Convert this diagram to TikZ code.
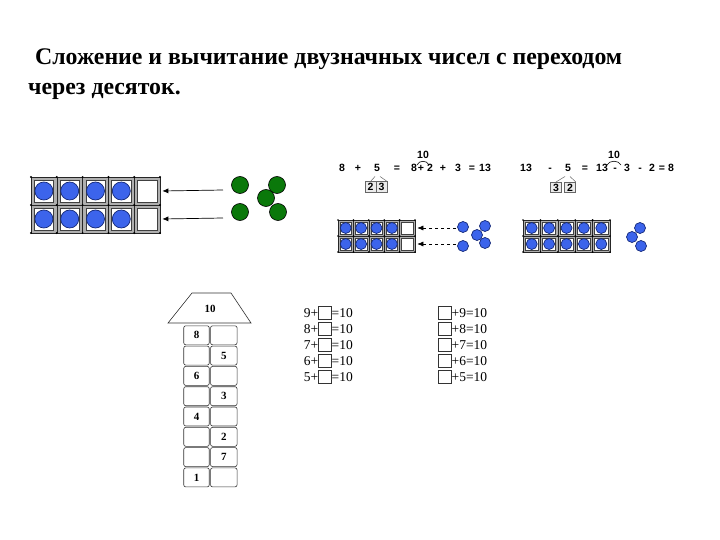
\documentclass[tikz,border=0pt]{standalone}
\usepackage{fontspec}
\setmainfont{Liberation Serif}
\newfontfamily\eqfont{Liberation Sans}
\usetikzlibrary{arrows.meta}
\definecolor{dotblue}{RGB}{60,100,235}
\definecolor{dotedge}{RGB}{20,40,120}
\definecolor{dotgreen}{RGB}{10,120,10}
\definecolor{frame}{RGB}{175,175,175}
\begin{document}
\begin{tikzpicture}[x=1pt,y=-1pt,
  title/.style={font=\fontsize{23.8}{27}\selectfont\bfseries, inner sep=0, anchor=base west},
  cellout/.style={draw=black!85, line width=0.6pt, fill=frame, inner sep=0},
  cellin/.style={draw=black!75, line width=0.5pt, fill=white, inner sep=0},
  bdot/.style={circle, fill=dotblue, draw=dotedge, line width=0.7pt, inner sep=0},
  gdot/.style={circle, fill=dotgreen, draw=black, line width=0.6pt, inner sep=0, minimum size=17},
  eq/.style={font=\eqfont\bfseries\fontsize{10.5}{12}\selectfont, inner sep=0, anchor=base},
  dbox/.style={draw=black!60, fill=black!8, line width=0.5pt, inner sep=0, minimum width=11, minimum height=10.5, font=\eqfont\bfseries\fontsize{10.5}{12}\selectfont},
  hcell/.style={draw=black!80, line width=0.6pt, rounded corners=2, inner sep=0, minimum height=19, font=\fontsize{11}{12}\selectfont\bfseries},
  eqt/.style={font=\fontsize{13.5}{14}\selectfont, inner sep=0},
  ebox/.style={draw=black!80, line width=0.6pt, inner sep=0, minimum width=13, minimum height=12.5},
  arr/.style={-{Latex[length=6pt,width=5pt]}, line width=0.7pt}
]
\useasboundingbox (0,0) rectangle (720,540);

% title
\node[title] (t1) at (31,65) {\,Сложение и вычитание двузначных чисел с переходом};
\node[title] (t2) at (28,95) {через десяток.};

% big tens frame
\foreach \c in {0,...,4} \foreach \r in {0,1} {
  \node[cellout, minimum width=25.8, minimum height=28] (A\c\r) at ({31+12.9+\c*25.8},{177+14+\r*28}) {};
  \node[cellin, minimum width=19.4, minimum height=21.6] (Ai\c\r) at (A\c\r) {};
}
\foreach \c in {0,...,3} \foreach \r in {0,1}
  \node[bdot, minimum size=18] (Ab\c\r) at (A\c\r) {};
\foreach \c in {0,...,5} \foreach \r in {0,1,2}
  \fill (31+\c*25.8,177+\r*28) circle (1.1);

% green counters
\node[gdot] (g2) at (277,185) {};
\node[gdot] (g3) at (266,198) {};
\node[gdot] (g5) at (278,212) {};
\node[gdot] (g1) at (240,185) {};
\node[gdot] (g4) at (240,212) {};
\coordinate (s1) at (223,190);
\coordinate (s2) at (223,218);
\draw[arr] (s1) -- ([xshift=2pt]A40.east);
\draw[arr] (s2) -- ([xshift=2pt]A41.east);

% equation 1
\foreach \x/\t [count=\i] in {342/8,358/+,377/5,397/=,414/8,421/+,430/2,443/+,458/3,472/=,485/13}
  \node[eq] (p\i) at (\x,172) {\t};
\node[eq] (pten) at (423,159) {10};
\draw[line width=0.6pt] (417,165) .. controls (419,160) and (427,160) .. (429,165);
\node[dbox] (pb1) at (370.5,187) {2};
\node[dbox] (pb2) at (381.5,187) {3};
\draw[black!60, line width=0.5pt] (375,176.5) -- (pb1.north);
\draw[black!60, line width=0.5pt] (380,176.5) -- (pb2.north east);

% equation 2
\foreach \x/\t [count=\i] in {526/13,550/-,568/5,585/=,602/13,615/-,627/3,640/-,652/2,662/=,671/8}
  \node[eq] (q\i) at (\x,172) {\t};
\node[eq] (qten) at (614,159) {10};
\draw[line width=0.6pt] (607,165) .. controls (609,160) and (619,160) .. (621,165);
\node[dbox] (qb1) at (556,187.5) {3};
\node[dbox] (qb2) at (570,187.5) {2};
\draw[black!60, line width=0.5pt] (565,176.5) -- (qb1.north);
\draw[black!60, line width=0.5pt] (570,176.5) -- (qb2.north east);

% middle small frame
\foreach \c in {0,...,4} \foreach \r in {0,1} {
  \node[cellout, minimum width=15.4, minimum height=16] (B\c\r) at ({338+7.7+\c*15.4},{220+8+\r*16}) {};
  \node[cellin, minimum width=11.4, minimum height=12] (Bi\c\r) at (B\c\r) {};
}
\foreach \c in {0,...,3} \foreach \r in {0,1}
  \node[bdot, minimum size=11] (Bb\c\r) at (B\c\r) {};
\foreach \c in {0,...,5} \foreach \r in {0,1,2}
  \fill (338+\c*15.4,220+\r*16) circle (0.9);
\node[bdot, minimum size=11] (m1) at (463,227) {};
\node[bdot, minimum size=11] (m2) at (463,246) {};
\node[bdot, minimum size=11] (m3) at (485,226) {};
\node[bdot, minimum size=11] (m5) at (485,243) {};
\node[bdot, minimum size=11] (m4) at (477,235) {};
\coordinate (d1) at (456,228);
\coordinate (d2) at (456,244);
\draw[arr, dashed, line width=0.6pt] (d1) -- ([xshift=2pt]B40.east);
\draw[arr, dashed, line width=0.6pt] (d2) -- ([xshift=2pt]B41.east);

% right small frame
\foreach \c in {0,...,4} \foreach \r in {0,1} {
  \node[cellout, minimum width=17.4, minimum height=16] (C\c\r) at ({523+8.7+\c*17.4},{220+8+\r*16}) {};
  \node[cellin, minimum width=13.2, minimum height=12] (Ci\c\r) at (C\c\r) {};
  \node[bdot, minimum size=11] (Cb\c\r) at (C\c\r) {};
}
\foreach \c in {0,...,5} \foreach \r in {0,1,2}
  \fill (523+\c*17.4,220+\r*16) circle (0.9);
\node[bdot, minimum size=11] (r1) at (640,228) {};
\node[bdot, minimum size=11] (r2) at (632,237) {};
\node[bdot, minimum size=11] (r3) at (641,246) {};

% house
\draw[black!80, line width=0.6pt] (192,293) -- (231,293) -- (251,323) -- (168,323) -- cycle;
\node[font=\fontsize{11}{12}\selectfont\bfseries, inner sep=0] (roof) at (210,309) {10};
\foreach \l/\rr [count=\i from 0] in {8/,/5,6/,/3,4/,/2,/7,1/} {
  \node[hcell, minimum width=25.5] (hl\i) at (196.5,{335.3+\i*20.3}) {\l};
  \node[hcell, minimum width=26.5] (hr\i) at (223.8,{335.3+\i*20.3}) {\rr};
}

% equation lists
\foreach \a [count=\i] in {9,8,7,6,5} {
  \node[eqt, anchor=east] (la\i) at (318.5,{313+(\i-1)*16}) {\a+};
  \node[ebox] (lb\i) at (325,{313+(\i-1)*16}) {};
  \node[eqt, anchor=west] (lc\i) at (331.5,{313+(\i-1)*16}) {=10};
  \node[ebox] (rb\i) at (445,{313+(\i-1)*16}) {};
  \node[eqt, anchor=west] (rc\i) at (451.5,{313+(\i-1)*16}) {+\a=10};
}
\end{tikzpicture}
\end{document}
